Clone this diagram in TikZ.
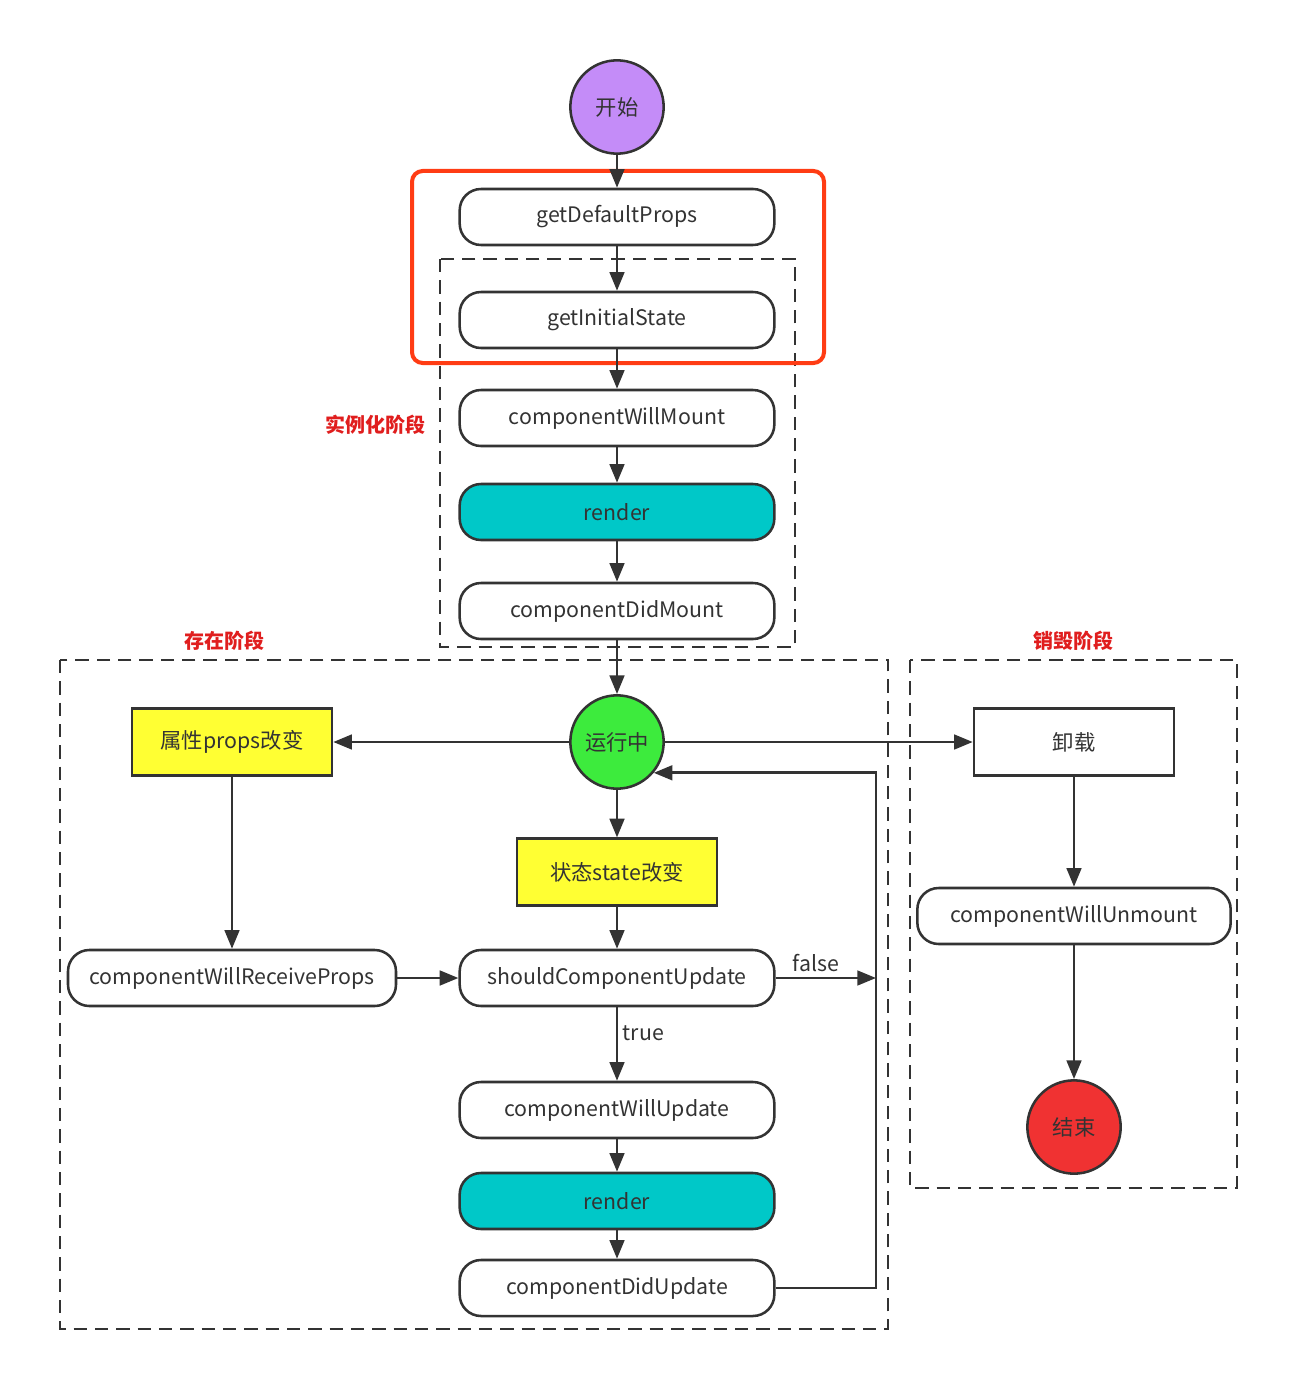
\documentclass[tikz,border=0pt]{standalone}
\usepackage{fontspec}
\setmainfont{Noto Sans CJK SC}
\usetikzlibrary{arrows.meta}
\definecolor{ink}{HTML}{333333}
\definecolor{startc}{HTML}{C48CF8}
\definecolor{runc}{HTML}{3DEB3D}
\definecolor{endc}{HTML}{F03232}
\definecolor{yel}{HTML}{FFFF33}
\definecolor{cyanc}{HTML}{00C8C8}
\definecolor{hl}{HTML}{FF3C14}
\definecolor{lab}{HTML}{E01E1E}
\begin{document}
\begin{tikzpicture}[x=0.75pt,y=-0.75pt,
  every node/.style={text=ink,font=\fontsize{16}{19}\selectfont},
  pill/.style={draw=ink,line width=1.9pt,rounded corners=16pt,minimum width=236pt,minimum height=42pt,inner sep=0pt,fill=white},
  circ/.style={draw=ink,line width=1.9pt,circle,minimum size=70pt,inner sep=0pt},
  sq/.style={draw=ink,line width=1.9pt,minimum width=150pt,minimum height=50pt,inner sep=0pt},
  arr/.style={draw=ink,line width=2pt,-{Triangle[length=14pt,width=11pt]}},
  phase/.style={draw=ink,line width=2pt,dash pattern=on 10pt off 6pt},
  plabel/.style={text=lab,font=\fontsize{15}{18}\selectfont\bfseries}]
\useasboundingbox (0,0) rectangle (1302,1380);
% phase boxes
\draw[phase] (440,259) rectangle (795,647);
\draw[phase] (60,660) rectangle (888,1329);
\draw[phase] (910,660) rectangle (1237,1188);
\node[plabel] (l1) at (375,425) {实例化阶段};
\node[plabel] (l2) at (224,641) {存在阶段};
\node[plabel] (l3) at (1073,641) {销毁阶段};
% nodes
\node[circ,fill=startc] (start) at (617,107) {开始};
\node[pill] (gdp) at (617,217) {getDefaultProps};
\node[pill] (gis) at (617,320) {getInitialState};
\node[pill] (cwm) at (617,418) {componentWillMount};
\node[pill,fill=cyanc] (r1) at (617,512) {render};
\node[pill] (cdm) at (617,611) {componentDidMount};
\node[circ,fill=runc] (run) at (617,742) {运行中};
\node[sq,fill=yel] (pc) at (232,742) {属性props改变};
\node[sq,fill=white] (unl) at (1074,742) {卸载};
\node[sq,fill=yel] (sc) at (617,872) {状态state改变};
\node[pill,minimum width=246pt] (cwrp) at (232,978) {componentWillReceiveProps};
\node[pill] (scu) at (617,978) {shouldComponentUpdate};
\node[pill,minimum width=235pt] (cwu2) at (1074,916) {componentWillUnmount};
\node[pill] (cwu) at (617,1110) {componentWillUpdate};
\node[pill,fill=cyanc] (r2) at (617,1201) {render};
\node[pill] (cdu) at (617,1288) {componentDidUpdate};
\node[circ,fill=endc] (fin) at (1074,1127) {结束};
\coordinate (fbx) at (876,0);
% highlight
\draw[hl,line width=3pt,rounded corners=8pt] (412,171) rectangle (824,363);
% connectors
\draw[arr] (start) -- (gdp);
\draw[arr] (gdp) -- (gis);
\draw[arr] (gis) -- (cwm);
\draw[arr] (cwm) -- (r1);
\draw[arr] (r1) -- (cdm);
\draw[arr] (cdm) -- (run);
\draw[arr] (run) -- (pc);
\draw[arr] (run) -- (unl);
\draw[arr] (run) -- (sc);
\draw[arr] (pc) -- (cwrp);
\draw[arr] (cwrp) -- (scu);
\draw[arr] (sc) -- (scu);
\draw[arr] (scu.east) -- node[above,pos=0.4] (fl) {false} (scu.east -| fbx);
\draw[arr] (scu) -- node[right,pos=0.35] (tl) {true} (cwu);
\draw[arr] (cwu) -- (r2);
\draw[arr] (r2) -- (cdu);
\coordinate (fbtip) at (run.-40);
\draw[arr] (cdu.east) -- (cdu.east -| fbx) |- (fbtip);
\draw[arr] (unl) -- (cwu2);
\draw[arr] (cwu2) -- (fin);
\end{tikzpicture}
\end{document}
